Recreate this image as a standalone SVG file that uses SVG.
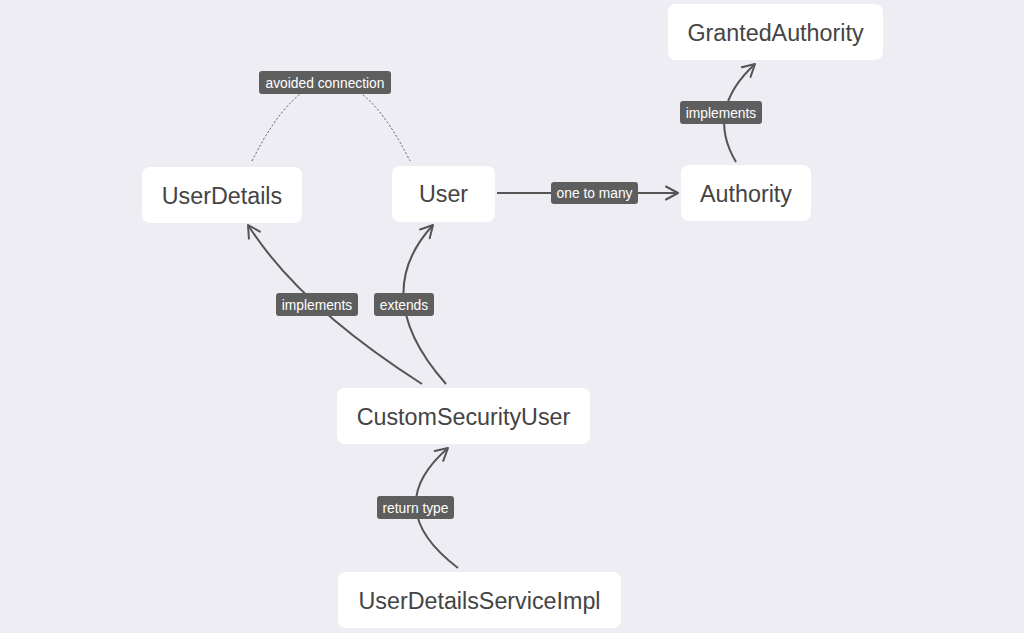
<svg xmlns="http://www.w3.org/2000/svg" width="1024" height="633" viewBox="0 0 1024 633">
  <defs>
    <marker id="arrow" viewBox="-14 -8 16 16" refX="0" refY="0" markerWidth="16" markerHeight="16" markerUnits="userSpaceOnUse" orient="auto">
      <path d="M-12,-6.5 L0,0 L-12,6.5" fill="none" stroke="#555555" stroke-width="2" stroke-linecap="round" stroke-linejoin="round"/>
    </marker>
  </defs>
  <style>
    .node rect { fill: #ffffff; }
    .node text { font-family: "Liberation Sans", Arial, sans-serif; font-size: 23.3px; fill: #444444; text-anchor: middle; }
    .edge { fill: none; stroke: #555555; stroke-width: 2; }
    .dotted { fill: none; stroke: #555555; stroke-width: 1; stroke-dasharray: 2 2; }
    .lbl rect { fill: #5e5e5e; }
    .lbl text { font-family: "Liberation Sans", Arial, sans-serif; font-size: 13.8px; fill: #ffffff; text-anchor: middle; }
  </style>
  <rect width="1024" height="633" fill="#eeedf3"/>

  <g id="connectors">
    <path class="dotted" d="M252,161 Q331,3 410,161"/>
    <path class="edge" d="M497,193 L678,193" marker-end="url(#arrow)"/>
    <path class="edge" d="M736,162 Q705,110 755,64" marker-end="url(#arrow)"/>
    <path class="edge" d="M422,384 Q299,305.5 248,225" marker-end="url(#arrow)"/>
    <path class="edge" d="M446,384 Q368,296 433,225" marker-end="url(#arrow)"/>
    <path class="edge" d="M458,568 Q379,508 448,448" marker-end="url(#arrow)"/>
    <g class="lbl">
      <rect x="259" y="71" width="132" height="23" rx="3"/>
      <text x="325" y="87.5">avoided connection</text>
    </g>
    <g class="lbl">
      <rect x="551" y="182" width="87" height="22" rx="3"/>
      <text x="594.5" y="198">one to many</text>
    </g>
    <g class="lbl">
      <rect x="680" y="101" width="82" height="23" rx="3"/>
      <text x="721" y="117.5">implements</text>
    </g>
    <g class="lbl">
      <rect x="276" y="293" width="82" height="23" rx="3"/>
      <text x="317" y="309.5">implements</text>
    </g>
    <g class="lbl">
      <rect x="374" y="293" width="60" height="23" rx="3"/>
      <text x="404" y="309.5">extends</text>
    </g>
    <g class="lbl">
      <rect x="377" y="496" width="77" height="23" rx="3"/>
      <text x="415.5" y="512.5">return type</text>
    </g>
  </g>

  <g id="node-userdetails" class="node">
    <rect x="142" y="167" width="160" height="56" rx="8"/>
    <text x="222" y="203.5">UserDetails</text>
  </g>
  <g id="node-user" class="node">
    <rect x="392" y="166" width="103" height="56" rx="8"/>
    <text x="443.5" y="202">User</text>
  </g>
  <g id="node-grantedauthority" class="node">
    <rect x="668" y="4" width="215" height="56" rx="8"/>
    <text x="775.5" y="40.5">GrantedAuthority</text>
  </g>
  <g id="node-authority" class="node">
    <rect x="681" y="165" width="130" height="56" rx="8"/>
    <text x="746" y="201.5">Authority</text>
  </g>
  <g id="node-customsecurityuser" class="node">
    <rect x="337" y="388" width="253" height="56" rx="8"/>
    <text x="463.5" y="424.5">CustomSecurityUser</text>
  </g>
  <g id="node-userdetailsserviceimpl" class="node">
    <rect x="338" y="572" width="283" height="56" rx="8"/>
    <text x="479.5" y="608.5">UserDetailsServiceImpl</text>
  </g>
</svg>
